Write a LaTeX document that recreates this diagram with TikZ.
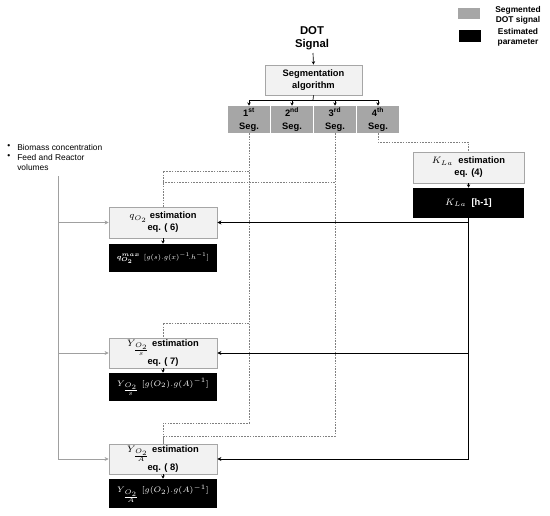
\documentclass[tikz,border=0pt]{standalone}
\usepackage{amsmath}
\usepackage{graphicx}
\usepackage{fontspec}
\setmainfont{Liberation Sans}
\usetikzlibrary{arrows.meta}
\definecolor{boxfill}{HTML}{F2F2F2}
\definecolor{boxline}{HTML}{A6A6A6}
\definecolor{segfill}{HTML}{A6A6A6}
\definecolor{dashc}{HTML}{808080}
\definecolor{leftc}{HTML}{A0A0A0}
\tikzset{
  estbox/.style={draw=boxline, fill=boxfill, line width=0.6pt, minimum width=81pt, align=center, font=\fontsize{7}{9}\selectfont\bfseries, inner sep=1pt},
  parbox/.style={fill=black, text=white, minimum width=81pt, align=center, font=\fontsize{6.3}{8}\selectfont\bfseries, inner sep=0pt},
  segbox/.style={fill=segfill, minimum width=31.5pt, minimum height=20.25pt, align=center, font=\fontsize{7}{9}\selectfont\bfseries, inner sep=0pt},
  dsh/.style={draw=dashc, line width=0.6pt, dash pattern=on 1.2pt off 0.9pt},
  barrow/.style={draw=black, line width=0.75pt, -{Stealth[length=3pt,width=3pt]}},
  bline/.style={draw=black, line width=0.75pt},
  garrow/.style={draw=leftc, line width=0.6pt, -{Stealth[length=3pt,width=3pt]}},
  gline/.style={draw=leftc, line width=0.6pt},
  karrow/.style={draw=black, line width=0.5pt, -{Stealth[length=2.5pt,width=2.5pt]}},
  bultext/.style={font=\fontsize{6.3}{7.5}\selectfont, anchor=west, inner sep=0pt},
}
\begin{document}
\begin{tikzpicture}[x=0.75pt, y=-0.75pt]
\useasboundingbox (0,0) rectangle (550,515);

% DOT signal and segmentation
\node[font=\fontsize{8.5}{10}\selectfont\bfseries, align=center, inner sep=0pt] (dot) at (312,38) {DOT\\ Signal};
\node[estbox, minimum width=72.75pt, minimum height=22.5pt] (seg) at (313.5,80) {Segmentation\\algorithm};
\draw[karrow] (313,53) -- (seg.north);

\node[segbox] (s1) at (249,119.5) {1\textsuperscript{st}\\[1pt]Seg.};
\node[segbox] (s2) at (292,119.5) {2\textsuperscript{nd}\\[1pt]Seg.};
\node[segbox] (s3) at (335,119.5) {3\textsuperscript{rd}\\[1pt]Seg.};
\node[segbox] (s4) at (378,119.5) {4\textsuperscript{th}\\[1pt]Seg.};

\coordinate (sp) at (313,100);
\draw[line width=0.5pt] (seg.south) -- (sp);
\draw[line width=0.5pt] (249,100) -- (378,100);
\draw[karrow] (s1.north |- sp) -- (s1.north);
\draw[karrow] (s2.north |- sp) -- (s2.north);
\draw[karrow] (s3.north |- sp) -- (s3.north);
\draw[karrow] (s4.north |- sp) -- (s4.north);

% Legend
\node[fill=segfill, minimum width=16.5pt, minimum height=8.25pt, inner sep=0pt] (lg1) at (469,13.5) {};
\node[fill=black, minimum width=16.5pt, minimum height=9pt, inner sep=0pt] (lg2) at (470,36) {};
\node[font=\fontsize{6.3}{7.5}\selectfont\bfseries, align=center, inner sep=0pt] (lt1) at (518,15) {Segmented\\DOT signal};
\node[font=\fontsize{6.3}{7.5}\selectfont\bfseries, align=center, inner sep=0pt] (lt2) at (518,37.5) {Estimated\\parameter};

% Bullets
\node[bultext] (b1) at (7,147) {•};
\node[bultext] (b2) at (7,157) {•};
\node[bultext] (t1) at (17,147) {Biomass concentration};
\node[bultext] (t2) at (17,157) {Feed and Reactor};
\node[bultext] (t3) at (17,167) {volumes};

% KLa
\node[estbox, minimum width=83.25pt, minimum height=23.25pt] (kla) at (468.5,167.5) {$K_{La}$\ \ estimation\\eq. (4)};
\node[parbox, minimum width=83.25pt, minimum height=22.5pt, font=\fontsize{7}{9}\selectfont\bfseries] (klaB) at (468.5,203) {$K_{La}$\ \ [h-1]};
\draw[karrow] (kla.south) -- (klaB.north);

% Estimation boxes
\node[estbox, minimum height=23.25pt] (q) at (163,222.5) {$q_{O_2}$\ estimation\\eq. ( 6)};
\node[parbox, minimum height=21pt] (qB) at (163,258) {\scalebox{0.85}{$\boldsymbol{q^{max}_{O_2}}\;\,[g(s).g(x)^{-1}\!.h^{-1}]$}};
\draw[karrow] (q.south) -- (qB.north);

\node[estbox, minimum height=22.5pt] (ys) at (163,353) {$Y_{\frac{O_2}{s}}$\ estimation\\[1pt]eq. ( 7)};
\node[parbox, minimum height=21pt] (ysB) at (163,387) {$Y_{\frac{O_2}{s}}\;[g(O_2).g(A)^{-1}]$};
\draw[karrow] (ys.south) -- (ysB.north);

\node[estbox, minimum height=21pt] (ya) at (163,459) {$Y_{\frac{O_2}{A}}$\ estimation\\[1pt]eq. ( 8)};
\node[parbox, minimum height=21.75pt] (yaB) at (163,493.5) {$Y_{\frac{O_2}{A}}\;[g(O_2).g(A)^{-1}]$};
\draw[karrow] (ya.south) -- (yaB.north);

% Left gray inputs
\coordinate (gl) at (58,176);
\draw[gline] (gl) -- (gl |- ya.west);
\draw[garrow] (gl |- q.west) -- (q.west);
\draw[garrow] (gl |- ys.west) -- (ys.west);
\draw[garrow] (gl |- ya.west) -- (ya.west);

% Right black KLa lines
\coordinate (kb) at (468.5,218);
\draw[bline] (klaB.south) -- (kb |- ya.east);
\draw[barrow] (kb |- q.east) -- (q.east);
\draw[barrow] (kb |- ys.east) -- (ys.east);
\draw[barrow] (kb |- ya.east) -- (ya.east);

% Dashed segment connections
\coordinate (d4) at (378,142);
\draw[dsh] (s4.south) -- (d4) -| (kla.north);

\coordinate (d1q) at (249,171);
\coordinate (d3q) at (335,182);
\coordinate (d1s) at (249,323);
\coordinate (d1a) at (249,423);
\coordinate (d3a) at (335,436);
\draw[dsh] (s1.south) -- (d1a) -| (ya.north);
\draw[dsh] (s3.south) -- (d3a) -| (ya.north);
\draw[dsh] (d1q) -| (q.north);
\draw[dsh] (d3q) -- (q.north |- d3q);
\draw[dsh] (d1s) -| (ys.north);
\end{tikzpicture}
\end{document}
